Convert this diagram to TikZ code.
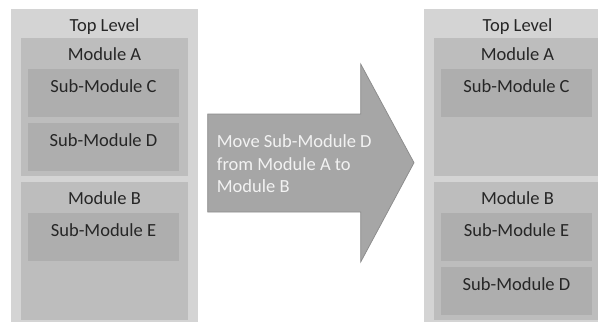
\documentclass[tikz,border=0pt]{standalone}
\usepackage{fontspec}
\setmainfont{Carlito}
\definecolor{outerc}{HTML}{D4D4D4}
\definecolor{modc}{HTML}{BDBDBD}
\definecolor{subc}{HTML}{AEAEAE}
\definecolor{arrowc}{HTML}{A6A6A6}
\definecolor{arrowline}{HTML}{8C8C8C}
\definecolor{txtc}{HTML}{262626}
\definecolor{arrowtxt}{HTML}{F2F2F2}
\tikzset{
  box/.style={rectangle, inner sep=0pt, outer sep=0pt, anchor=north west},
  outerbox/.style={box, fill=outerc, minimum width=187pt, minimum height=313pt},
  modbox/.style={box, fill=modc, minimum width=167pt, minimum height=138pt},
  subbox/.style={box, fill=subc, minimum width=151pt, minimum height=48pt},
  boxtext/.style={anchor=base, inner sep=0pt, text=txtc, font=\fontsize{18.5}{22.7}\selectfont},
  arrowtext/.style={anchor=base west, inner sep=0pt, align=left, text=arrowtxt, font=\fontsize{18.5}{22.7}\selectfont},
  bigarrow/.style={fill=arrowc, draw=arrowline, line width=0.75pt, line join=miter}
}
\begin{document}
\begin{tikzpicture}[x=1pt,y=-1pt]
\useasboundingbox (0,0) rectangle (598,322);
\clip (0,0) rectangle (598,322);
% left panel
\node[outerbox] (tlL) at (11,9) {};
\node[boxtext] (tlLt) at ([yshift=-22pt]tlL.north) {Top Level};
\node[modbox] (maL) at (21,38) {};
\node[boxtext] (maLt) at ([yshift=-22pt]maL.north) {Module A};
\node[subbox] (scL) at (28,69) {};
\node[boxtext] (scLt) at ([yshift=-23pt]scL.north) {Sub-Module C};
\node[subbox] (sdL) at (28,123) {};
\node[boxtext] (sdLt) at ([yshift=-23pt]sdL.north) {Sub-Module D};
\node[modbox] (mbL) at (21,182) {};
\node[boxtext] (mbLt) at ([yshift=-22pt]mbL.north) {Module B};
\node[subbox] (seL) at (28,213) {};
\node[boxtext] (seLt) at ([yshift=-23pt]seL.north) {Sub-Module E};
% right panel
\node[outerbox] (tlR) at (424,9) {};
\node[boxtext] (tlRt) at ([yshift=-22pt]tlR.north) {Top Level};
\node[modbox] (maR) at (434,38) {};
\node[boxtext] (maRt) at ([yshift=-22pt]maR.north) {Module A};
\node[subbox] (scR) at (441,69) {};
\node[boxtext] (scRt) at ([yshift=-23pt]scR.north) {Sub-Module C};
\node[modbox] (mbR) at (434,182) {};
\node[boxtext] (mbRt) at ([yshift=-22pt]mbR.north) {Module B};
\node[subbox] (seR) at (441,213) {};
\node[boxtext] (seRt) at ([yshift=-23pt]seR.north) {Sub-Module E};
\node[subbox] (sdR) at (441,267) {};
\node[boxtext] (sdRt) at ([yshift=-23pt]sdR.north) {Sub-Module D};
% arrow
\draw[bigarrow] (207.7,114) -- (360.7,114) -- (360.7,64) -- (414,162.7) -- (360.7,262) -- (360.7,212) -- (207.7,212) -- cycle;
\node[arrowtext] (arrtxt) at (216.7,192.7) {Move Sub-Module D\\from Module A to\\Module B};
\end{tikzpicture}
\end{document}
